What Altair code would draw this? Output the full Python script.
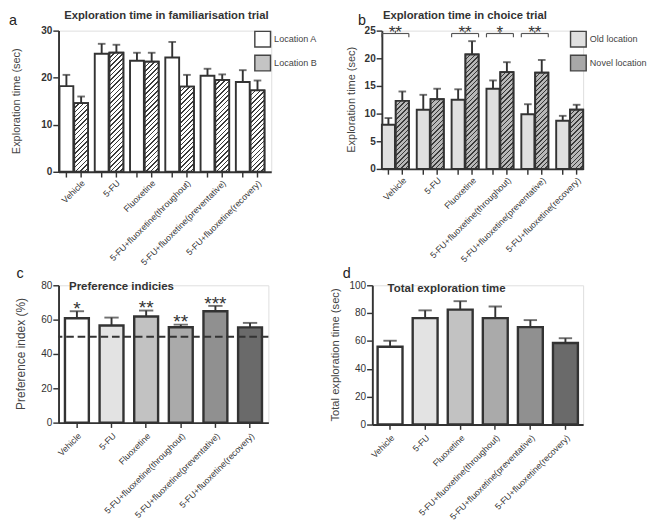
import altair as alt
import pandas as pd

FONT = "Liberation Sans"
DARK = "#333333"

groups = ["Vehicle", "5-FU", "Fluoxetine", "5-FU+fluoxetine(throughout)",
          "5-FU+fluoxetine(preventative)", "5-FU+fluoxetine(recovery)"]

# Panel a: familiarisation trial
fam_series = ["Location A", "Location B"]
famA = [18.2, 25.1, 23.6, 24.3, 20.4, 19.1]
famA_err = [2.4, 2.1, 1.7, 3.3, 1.5, 2.5]
famB = [14.6, 25.3, 23.4, 18.1, 19.5, 17.3]
famB_err = [1.4, 1.7, 1.9, 2.5, 1.2, 2.1]

# Panel b: choice trial
cho_series = ["Old location", "Novel location"]
choOld = [8.0, 10.7, 12.5, 14.5, 9.9, 8.7]
choOld_err = [1.2, 2.7, 1.9, 1.5, 1.8, 0.9]
choNovel = [12.3, 12.6, 20.7, 17.5, 17.4, 10.7]
choNovel_err = [1.7, 1.9, 2.4, 1.8, 2.3, 0.9]
cho_sig = ["**", "", "**", "*", "**", ""]

# Panel c: preference indices
pref = [60.8, 56.6, 61.8, 55.6, 64.9, 55.5]
pref_err = [4.1, 4.6, 3.5, 1.5, 3.1, 2.6]
pref_sig = ["*", "", "**", "**", "***", ""]
chance_level = [50]

# Panel d: total exploration time
total = [55.9, 76.4, 82.5, 76.4, 70.0, 58.6]
total_err = [4.3, 5.6, 6.1, 8.4, 5.0, 3.4]

gray6 = ["#ffffff", "#e3e3e3", "#c2c2c2", "#aaaaaa", "#909090", "#6a6a6a"]


def text_layer(txt, x, y, size, weight="normal", align="center", baseline="alphabetic",
               angle=0, color=DARK):
    return alt.Chart(pd.DataFrame({"t": [txt]})).mark_text(
        text=txt, font=FONT, fontSize=size, fontWeight=weight, align=align,
        baseline=baseline, angle=angle, color=color
    ).encode(x=alt.value(x), y=alt.value(y))


def hatch_gradient(w, h, bg, fg, period=3.4, frac=0.32):
    """Diagonal '/' hatching drawn as a hard-stop linear gradient in bbox units."""
    h = max(h, 1.0)
    k = (w + h) / (w * w + h * h)
    n = max(1, int(round((w + h) / (2 ** 0.5 * period))))
    stops = []
    for i in range(n):
        a, b, c = i / n, (i + frac) / n, (i + 1) / n
        stops += [alt.GradientStop(offset=a, color=fg), alt.GradientStop(offset=b, color=fg),
                  alt.GradientStop(offset=b, color=bg), alt.GradientStop(offset=c, color=bg)]
    return alt.LinearGradient(gradient="linear", stops=stops, x1=0, y1=0,
                              x2=k * w, y2=k * h)


def make_y_axis(ymax, ystep, bold):
    return alt.Axis(values=list(range(0, ymax + 1, ystep)), tickSize=6, tickWidth=1.5,
                    tickColor=DARK, domainColor=DARK, domainWidth=2, labelFontSize=10.5,
                    labelFontWeight="bold" if bold else "normal", labelFont=FONT,
                    labelColor=DARK, labelPadding=1, grid=False, labelOverlap=False,
                    title=None)


def grouped_panel(vals1, err1, vals2, err2, series, colors, hatch_bg, field, ymax, ystep,
                  W, H, pi, po, al, cap, title, title_x, title_y, letter, letter_x, letter_y,
                  ytitle, ytitle_x, legend_x, sig=None):
    df = pd.DataFrame({
        "group": groups * 2,
        field: [series[0]] * 6 + [series[1]] * 6,
        "value": vals1 + vals2,
        "upper": [v + e for v, e in zip(vals1, err1)] + [v + e for v, e in zip(vals2, err2)],
    })
    x = alt.X("group:N", sort=groups, title=None,
              scale=alt.Scale(paddingInner=pi, paddingOuter=po, align=al),
              axis=alt.Axis(labelAngle=-45, labelAlign="right", labelBaseline="middle",
                            labelFontSize=9.2, labelFont=FONT, labelColor=DARK,
                            labelOffset=10, labelPadding=10, ticks=False,
                            domainColor=DARK, domainWidth=2, labelLimit=300))
    xo = alt.XOffset(f"{field}:N", sort=series,
                     scale=alt.Scale(domain=series, paddingInner=0.06))
    y_axis = make_y_axis(ymax, ystep, True)
    yscale = alt.Scale(domain=[0, ymax], nice=False)

    def Y(f):
        return alt.Y(f, scale=yscale, axis=y_axis, title=None)

    base = alt.Chart(df)
    bars = base.mark_bar(stroke=DARK, strokeWidth=2).encode(
        x=x, xOffset=xo, y=Y("value:Q"),
        fill=alt.Fill(f"{field}:N", sort=series,
                      scale=alt.Scale(domain=series, range=colors),
                      legend=alt.Legend(title=None, orient="none", legendX=legend_x,
                                        legendY=0, symbolType="square", symbolSize=270,
                                        symbolStrokeColor="#444444", symbolStrokeWidth=1.5,
                                        labelFont=FONT, labelFontSize=9.5,
                                        labelColor="#444444", rowPadding=1, padding=0,
                                        labelOffset=3)),
    )
    layers = [bars]
    # hatched overlay on the second series
    step = W / (6 - pi + 2 * po)
    bw_group = step * (1 - pi)
    bar_w = bw_group / (2 - 0.06) * 0.94
    for g, v in zip(groups, vals2):
        grad = hatch_gradient(bar_w, v / ymax * H, hatch_bg, "#3a3a3a")
        layers.append(base.transform_filter(
            (alt.datum.group == g) & (alt.datum[field] == series[1])
        ).mark_bar(fill=grad, stroke=DARK, strokeWidth=2).encode(
            x=x, xOffset=xo, y=Y("value:Q")))
    err = base.mark_rule(color=DARK, strokeWidth=2).encode(
        x=x, xOffset=xo, y=Y("value:Q"), y2="upper:Q")
    caps = base.mark_tick(color=DARK, thickness=2, size=cap).encode(
        x=x, xOffset=xo, y=Y("upper:Q"))
    ticks = base.mark_rule(color=DARK, strokeWidth=1.5).encode(
        x=x, xOffset=xo, y=alt.value(H), y2=alt.value(H + 6))
    layers += [err, caps, ticks]
    if sig is not None:
        sdf = pd.DataFrame({"group": groups, "sig": sig})
        sdf = sdf[sdf["sig"] != ""]
        sb = alt.Chart(sdf)
        xs = alt.X("group:N", sort=groups)
        layers.append(sb.mark_text(font=FONT, fontSize=18, color=DARK,
                                   baseline="alphabetic").encode(
            x=xs, y=alt.value(8), text="sig:N"))
        layers.append(sb.mark_rule(color="#555555", strokeWidth=1.2, xOffset=-bw_group / 2,
                                   x2Offset=bw_group / 2).encode(
            x=xs, x2=alt.X2("group"), y=alt.value(3)))
        layers.append(sb.mark_rule(color="#555555", strokeWidth=1.2,
                                   xOffset=-bw_group / 2).encode(
            x=xs, y=alt.value(3), y2=alt.value(7)))
        layers.append(sb.mark_rule(color="#555555", strokeWidth=1.2,
                                   xOffset=bw_group / 2).encode(
            x=xs, y=alt.value(3), y2=alt.value(7)))
        layers.append(sb.mark_rule(color="#555555", strokeWidth=1.2).encode(
            x=xs, y=alt.value(0), y2=alt.value(3)))
    layers.append(text_layer(title, title_x, title_y, 11.8, weight="bold"))
    layers.append(text_layer(letter, letter_x, letter_y, 15, align="left", color="#222222"))
    layers.append(text_layer(ytitle, ytitle_x, H / 2, 11.5, angle=270,
                             baseline="middle", color="#444444"))
    return alt.layer(*layers).properties(width=W, height=H)


def single_panel(vals, errs, ymax, ystep, W, H, pi, po, cap, title, title_x, title_y,
                 letter, letter_x, letter_y, ytitle, ytitle_x, ytitle_size,
                 sig=None, refline=None):
    df = pd.DataFrame({
        "group": groups,
        "value": vals,
        "upper": [v + e for v, e in zip(vals, errs)],
        "sig": sig if sig is not None else [""] * 6,
    })
    x = alt.X("group:N", sort=groups, title=None,
              scale=alt.Scale(paddingInner=pi, paddingOuter=po),
              axis=alt.Axis(labelAngle=-45, labelAlign="right", labelBaseline="middle",
                            labelFontSize=9.2, labelFont=FONT, labelColor=DARK,
                            labelOffset=3, labelPadding=7, ticks=True, tickSize=5,
                            tickWidth=1.5, tickColor=DARK,
                            domainColor=DARK, domainWidth=2, labelLimit=300))
    y_axis = make_y_axis(ymax, ystep, False)
    yscale = alt.Scale(domain=[0, ymax], nice=False)

    def Y(f):
        return alt.Y(f, scale=yscale, axis=y_axis, title=None)

    base = alt.Chart(df)
    bars = base.mark_bar(stroke=DARK, strokeWidth=2.5).encode(
        x=x, y=Y("value:Q"),
        fill=alt.Fill("group:N", sort=groups, scale=alt.Scale(domain=groups, range=gray6),
                      legend=None))
    err = base.mark_rule(color=DARK, strokeWidth=2).encode(
        x=x, y=Y("value:Q"), y2="upper:Q")
    caps = base.mark_tick(color=DARK, thickness=2, size=cap).encode(
        x=x, y=Y("upper:Q"))
    layers = [bars, err, caps]
    if refline is not None:
        layers.append(alt.Chart(pd.DataFrame({"level": refline})).mark_rule(
            color=DARK, strokeWidth=2, strokeDash=[8, 4]).encode(y=Y("level:Q")))
    if sig is not None:
        layers.append(base.mark_text(font=FONT, fontSize=20, color=DARK,
                                     baseline="alphabetic", dy=4).encode(
            x=x, y=Y("upper:Q"), text="sig:N"))
    layers.append(text_layer(title, title_x, title_y, 12, weight="bold", align="left"))
    layers.append(text_layer(letter, letter_x, letter_y, 15, align="left", color="#222222"))
    layers.append(text_layer(ytitle, ytitle_x, H / 2, ytitle_size, angle=270,
                             baseline="middle", color="#444444"))
    return alt.layer(*layers).properties(width=W, height=H)


pa = grouped_panel(famA, famA_err, famB, famB_err, fam_series, ["#ffffff", "#c4c4c4"],
                   "#ffffff", "loc",
                   30, 10, 223, 148, 0.19, 0.11, 0.12, 8,
                   "Exploration time in familiarisation trial", 113, -12,
                   "a", -52, -6, "Exploration time (sec)", -43, 205)
pb = grouped_panel(choOld, choOld_err, choNovel, choNovel_err, cho_series,
                   ["#e0e0e0", "#a8a8a8"], "#b8b8b8", "cond",
                   25, 5, 211, 145, 0.227, 0.0, 0.5, 8,
                   "Exploration time in choice trial", 87, -12,
                   "b", -25, -6, "Exploration time (sec)", -31, 197, sig=cho_sig)
pc = single_panel(pref, pref_err, 80, 20, 220, 144, 0.31, 0.185, 15,
                  "Preference indicies", 11, 5, "c", -44, -8,
                  "Preference index (%)", -39, 12.5, sig=pref_sig, refline=chance_level)
pd_ = single_panel(total, total_err, 100, 20, 221, 146, 0.29, 0.15, 14,
                   "Total exploration time", 16, 7, "d", -31, -8,
                   "Total exploration time (sec)", -39, 11.7)

top = alt.hconcat(pa, pb, spacing=29).resolve_scale(fill="independent",
                                                    xOffset="independent")
bottom = alt.hconcat(pc, pd_, spacing=62).resolve_scale(fill="independent")
chart = alt.concat(top, bottom, columns=1, align="none", spacing=-2).resolve_scale(
    fill="independent"
).properties(padding={"top": -11, "left": 0, "right": 0, "bottom": 0}).configure_view(
    stroke=None).configure(font=FONT)

chart.save("out.html", embed_options={"renderer": "svg", "actions": False})
